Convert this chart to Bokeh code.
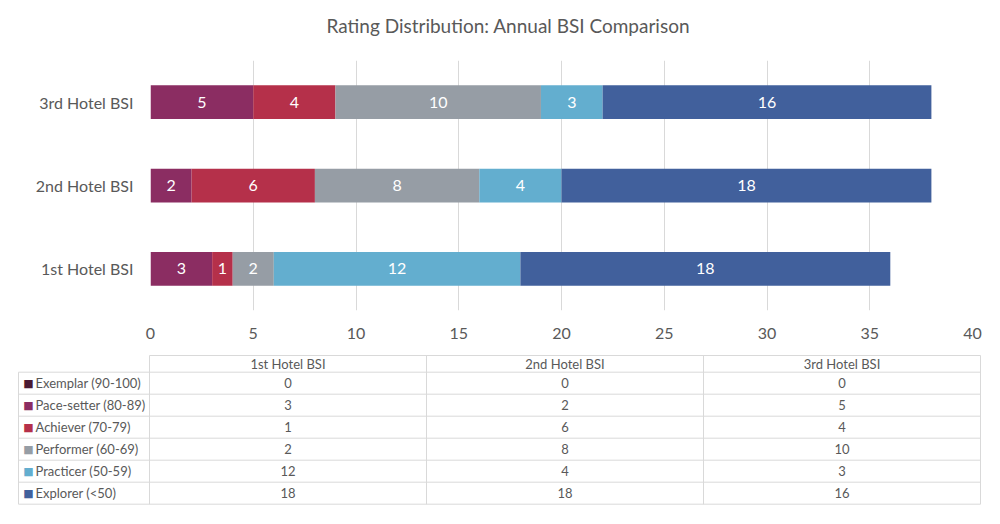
from bokeh.plotting import figure
from bokeh.models import ColumnDataSource, Range1d, FactorRange, FixedTicker, Title
from bokeh.layouts import column
from bokeh.embed import file_html
from bokeh.resources import INLINE
from bokeh.core.properties import value

# ---------------- data ----------------
hotels = ["1st Hotel BSI", "2nd Hotel BSI", "3rd Hotel BSI"]
categories = ["Exemplar (90-100)", "Pace-setter (80-89)", "Achiever (70-79)",
              "Performer (60-69)", "Practicer (50-59)", "Explorer (<50)"]
exemplar = [0, 0, 0]
pace_setter = [3, 2, 5]
achiever = [1, 6, 4]
performer = [2, 8, 10]
practicer = [12, 4, 3]
explorer = [18, 18, 16]
colors = ["#4B1A33", "#8B2D62", "#B5304A", "#969DA5", "#63AECF", "#41609C"]
x_ticks = [0, 5, 10, 15, 20, 25, 30, 35, 40]
title_text = "Rating Distribution: Annual BSI Comparison"

FONT = "Lato"
TXT = "#595959"
GRID = "#D9D9D9"

series = [exemplar, pace_setter, achiever, performer, practicer, explorer]
keys = ["exemplar", "pace_setter", "achiever", "performer", "practicer", "explorer"]

data = {"hotel": hotels}
for k, s in zip(keys, series):
    data[k] = s
src = ColumnDataSource(data)

W = 992
LEFT, RIGHT = 150, 20
FRAME_W = W - LEFT - RIGHT
TOP, FRAME_H, BOTTOM = 60, 250, 38

# ---------------- bar chart ----------------
p1 = figure(width=W, height=TOP + FRAME_H + BOTTOM, y_range=FactorRange(*hotels), x_range=Range1d(0, 40),
            output_backend="svg", toolbar_location=None,
            min_border_left=LEFT, min_border_right=RIGHT, min_border_top=TOP, min_border_bottom=BOTTOM)

p1.hbar_stack(keys, y="hotel", height=0.405, color=colors, line_color=None, source=src)

# segment labels
lx, ly, lt = [], [], []
for i, h in enumerate(hotels):
    left = 0
    for s in series:
        v = s[i]
        if v > 0:
            lx.append(left + v / 2)
            ly.append(h)
            lt.append(str(v))
        left += v
p1.text(x=lx, y=ly, text=lt, text_align="center", text_baseline="middle",
        text_color="white", text_font=value(FONT), text_font_size="16px")

p1.title.text = title_text
p1.title.align = "left"
p1.title.offset = 176
p1.title.standoff = 0
p1.title.text_font = FONT
p1.title.text_font_size = "19px"
p1.title.text_font_style = "normal"
p1.title.text_color = TXT
# blank spacer between title and plot area
p1.add_layout(Title(text=" ", text_font_size="10px", standoff=11), "above")

p1.outline_line_color = None
p1.ygrid.grid_line_color = None
p1.xgrid.grid_line_color = GRID
p1.xgrid.ticker = FixedTicker(ticks=x_ticks)
p1.xaxis.ticker = FixedTicker(ticks=x_ticks)
for ax in (p1.xaxis, p1.yaxis):
    ax.axis_line_color = None
    ax.major_tick_line_color = None
    ax.minor_tick_line_color = None
    ax.major_tick_out = 0
    ax.major_tick_in = 0
    ax.major_label_text_font = FONT
    ax.major_label_text_font_size = "16px"
    ax.major_label_text_color = TXT
p1.xaxis.major_label_standoff = 17
p1.yaxis.major_label_standoff = 17

# ---------------- data table ----------------
# table drawn in page pixel coordinates (x = page x, y = page y - 348)
p2 = figure(width=W, height=168, x_range=Range1d(LEFT, LEFT + FRAME_W), y_range=Range1d(168, 0),
            output_backend="svg", toolbar_location=None,
            x_axis_location=None, y_axis_location=None,
            min_border_left=LEFT, min_border_right=RIGHT, min_border_top=0, min_border_bottom=0)
p2.grid.visible = False
p2.outline_line_color = None

tab_left, tab_first, col_w = 18, 149, 277
head_top, head_bot, row_h = 7, 23.7, 22
n_rows = len(categories)
tab_right = tab_first + col_w * len(hotels)
tab_bottom = head_bot + row_h * n_rows

x0s, y0s, x1s, y1s = [], [], [], []
x0s.append(tab_first); x1s.append(tab_right); y0s.append(head_top); y1s.append(head_top)
for r in range(n_rows + 1):
    yy = head_bot + row_h * r
    x0s.append(tab_left); x1s.append(tab_right); y0s.append(yy); y1s.append(yy)
x0s.append(tab_left); x1s.append(tab_left); y0s.append(head_bot); y1s.append(tab_bottom)
for j in range(len(hotels) + 1):
    xx = tab_first + col_w * j
    x0s.append(xx); x1s.append(xx); y0s.append(head_top); y1s.append(tab_bottom)
p2.segment(x0=x0s, y0=y0s, x1=x1s, y1=y1s, line_color=GRID, line_width=1, level="overlay")

col_centers = [tab_first + col_w * (j + 0.5) for j in range(len(hotels))]
p2.text(x=col_centers, y=[(head_top + head_bot) / 2] * len(hotels), text=hotels,
        text_align="center", text_baseline="middle", text_color=TXT,
        text_font=value(FONT), text_font_size="13px", level="overlay")

row_centers = [head_bot + row_h * (r + 0.5) for r in range(n_rows)]
# legend keys (square glyph characters)
p2.text(x=[28] * n_rows, y=row_centers, text=["\u25A0"] * n_rows,
        text_align="center", text_baseline="middle", text_color=colors,
        text_font=value("DejaVu Sans"), text_font_size="11px", level="overlay")
p2.text(x=[35] * n_rows, y=row_centers, text=categories, text_align="left",
        text_baseline="middle", text_color=TXT, text_font=value(FONT), text_font_size="13px",
        level="overlay")

vx, vy, vt = [], [], []
for r, s in enumerate(series):
    for j in range(len(hotels)):
        vx.append(col_centers[j]); vy.append(row_centers[r]); vt.append(str(s[j]))
p2.text(x=vx, y=vy, text=vt, text_align="center", text_baseline="middle",
        text_color=TXT, text_font=value(FONT), text_font_size="13px", level="overlay")

layout = column(p1, p2, spacing=0)
open("out.html", "w").write(file_html(layout, INLINE))
